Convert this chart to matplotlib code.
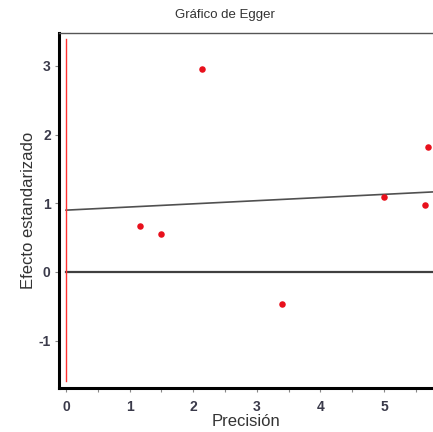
import numpy as np
import matplotlib.pyplot as plt

plt.rcParams['font.family'] = ['Liberation Sans', 'DejaVu Sans']
plt.rcParams['axes.unicode_minus'] = False

# precision and standardised effect of each study
precision = [1.16, 1.49, 2.14, 3.40, 5.00, 5.64, 5.69]
efecto = [0.67, 0.55, 2.95, -0.47, 1.09, 0.97, 1.82]
# Egger regression line (intercept, slope)
intercepto, pendiente = 0.90, 0.046

fig = plt.figure(figsize=(4.33, 4.32), dpi=100)
ax = fig.add_axes([0.1363, 0.1019, 0.8637, 0.8217])

ax.set_xlim(-0.11, 5.77)
ax.set_ylim(-1.69, 3.48)

xs = np.array([0, 5.77])
ax.plot(xs, [0, 0], color='#404040', lw=1.6, zorder=2)
ax.plot(xs, intercepto + pendiente * xs, color='#505050', lw=1.2, zorder=2)
ax.plot([0, 0], [-1.59, 3.39], color='#ff3030', lw=1.0, zorder=2)
ax.scatter(precision, efecto, s=22, color='#e8101c', zorder=3, linewidths=0)

ax.spines['right'].set_visible(False)
ax.spines['left'].set_linewidth(2.2)
ax.spines['bottom'].set_linewidth(2.2)
ax.spines['top'].set_linewidth(1.0)
ax.spines['top'].set_color('#555555')

ax.set_xticks([0, 1, 2, 3, 4, 5])
ax.set_xticks(np.arange(0.5, 5.6, 1.0), minor=True)
ax.set_yticks([-1, 0, 1, 2, 3])
ax.tick_params(axis='both', which='major', length=3, width=0.8, color='#888888',
               labelsize=10, labelcolor='#3a3a4a', pad=3)
ax.tick_params(axis='x', which='major', pad=6)
ax.tick_params(axis='x', which='minor', length=3, width=0.8, color='#888888')
for lab in ax.get_xticklabels() + ax.get_yticklabels():
    lab.set_fontweight('bold')

# title sits left of the axes centre in the original
fig.text(225 / 433, 1 - 15 / 432, 'Gráfico de Egger', fontsize=9.5, color='#333333',
         ha='center', va='center')
ax.set_xlabel('Precisión', fontsize=12, color='#333333', labelpad=0)
ax.set_ylabel('Efecto estandarizado', fontsize=12, color='#333333', labelpad=2)

fig.savefig('out.png', dpi=100)
